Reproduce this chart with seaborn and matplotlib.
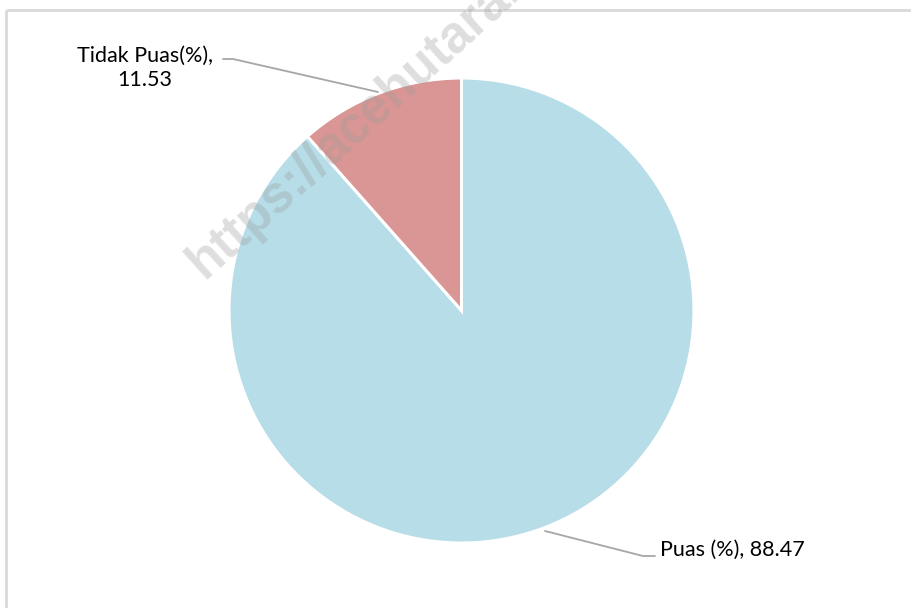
import matplotlib
matplotlib.use("Agg")
import matplotlib.pyplot as plt
import seaborn as sns

# Survey result shares (percent)
labels = ["Puas (%)", "Tidak Puas(%)"]
values = [88.47, 11.53]
colors = ["#B7DDE8", "#D99694"]

sns.set_theme(style="white")
plt.rcParams["font.family"] = ["Lato", "DejaVu Sans"]

W, H = 912, 608
fig = plt.figure(figsize=(W / 100, H / 100), dpi=100)
ax = fig.add_axes([0, 0, 1, 1])
ax.set_xlim(0, W)
ax.set_ylim(H, 0)
ax.set_aspect("equal")
ax.axis("off")

# Chart-area frame (only top and left edges fall inside the canvas)
ax.plot([6, W], [10, 10], color="#D9D9D9", lw=2, zorder=1, solid_capstyle="butt")
ax.plot([6, 6], [10, H], color="#D9D9D9", lw=2, zorder=1, solid_capstyle="butt")

cx, cy, r = 461.5, 310.5, 232.5
# y axis runs downward, so counterclock=True sweeps clockwise on screen
wedges, _ = ax.pie(values, colors=colors, startangle=-90, counterclock=True,
                   center=(cx, cy), radius=r,
                   wedgeprops=dict(edgecolor="white", linewidth=2.2))
for w in wedges:
    w.set_zorder(2)
ax.set_xlim(0, W)
ax.set_ylim(H, 0)

lead = "#A6A6A6"
# Leader line and label for Tidak Puas
ax.plot([223, 233, 378], [59, 59, 92], color=lead, lw=1.3, zorder=3)
ax.text(145, 68, f"{labels[1]},\n{values[1]:.2f}", ha="center", va="center",
        fontsize=15.5, color="black", linespacing=1.3, zorder=4)

# Leader line and label for Puas
ax.plot([545, 643, 655], [531, 556, 556], color=lead, lw=1.3, zorder=3)
ax.text(660, 550, f"{labels[0]}, {values[0]:.2f}", ha="left", va="center",
        fontsize=15.5, color="black", zorder=4)

# Site watermark
ax.text(204, 280, "https://acehutara.bps.go.id", rotation=42, rotation_mode="anchor",
        ha="left", va="baseline", fontsize=37, fontweight="bold",
        color="#9A9A9A", alpha=0.32, zorder=5,
        family=["Liberation Sans", "DejaVu Sans"])

fig.savefig("out.png", dpi=100, facecolor="white")
